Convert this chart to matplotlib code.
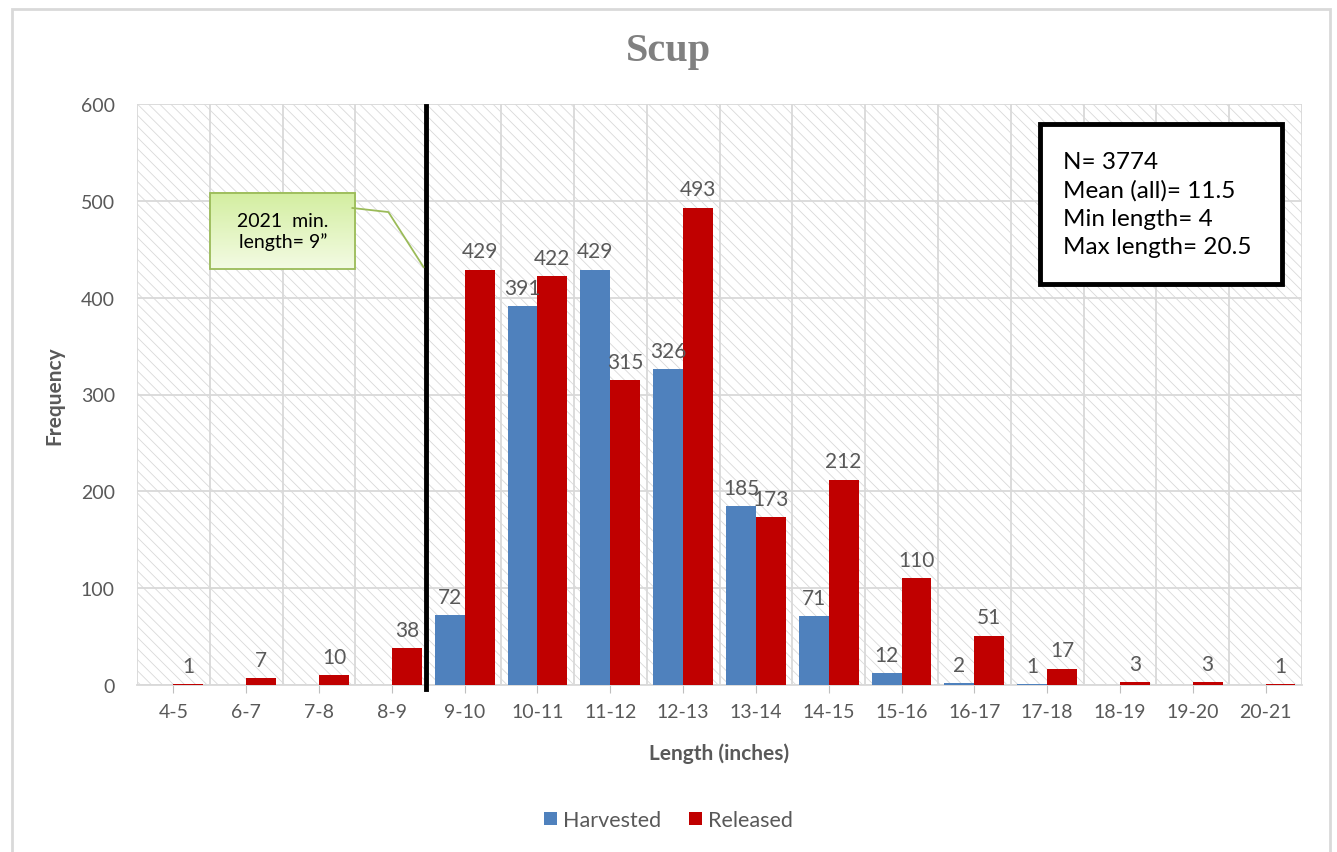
import matplotlib.pyplot as plt
import matplotlib.patches as mpatches
from matplotlib.colors import LinearSegmentedColormap
import numpy as np

plt.rcParams['font.family'] = ['Lato', 'DejaVu Sans']
plt.rcParams['hatch.linewidth'] = 0.6
plt.rcParams['hatch.color'] = '#d9d9d9'

lengths = ['4-5', '6-7', '7-8', '8-9', '9-10', '10-11', '11-12', '12-13',
           '13-14', '14-15', '15-16', '16-17', '17-18', '18-19', '19-20', '20-21']
harvested = [0, 0, 0, 0, 72, 391, 429, 326, 185, 71, 12, 2, 1, 0, 0, 0]
released = [1, 7, 10, 38, 429, 422, 315, 493, 173, 212, 110, 51, 17, 3, 3, 1]
min_size_pos = 3.47   # 9" minimum, between 8-9 and 9-10
stats = 'N= 3774\nMean (all)= 11.5\nMin length= 4\nMax length= 20.5'

txt = '#595959'
blue = '#4f81bd'
red = '#c00000'

fig = plt.figure(figsize=(13.37, 8.53), dpi=100)
fig.patches.append(mpatches.Rectangle((12/1337, -0.1), (1330-12)/1337, 1.1 - 10/853,
                                      transform=fig.transFigure, fill=False,
                                      edgecolor='#d9d9d9', lw=2, zorder=0))
ax = fig.add_axes([137/1337, 1 - 686/853, (1302-137)/1337, (686-105)/853])

x = np.arange(len(lengths))
w = 0.41
hb = ax.bar(x - w/2, harvested, w, color=blue, label='Harvested', zorder=3)
rb = ax.bar(x + w/2, released, w, color=red, label='Released', zorder=3)

for xi, v in zip(x - w/2, harvested):
    if v > 0:
        ax.annotate(str(v), (xi, v), xytext=(0, 6), textcoords='offset points',
                    ha='center', va='bottom', fontsize=15, color=txt, zorder=5)
for xi, v in zip(x + w/2, released):
    ax.annotate(str(v), (xi, v), xytext=(0, 6), textcoords='offset points',
                ha='center', va='bottom', fontsize=15, color=txt, zorder=5)

ax.set_xlim(-0.5, len(lengths) - 0.5)
ax.set_ylim(0, 600)
ax.set_yticks(range(0, 601, 100))
ax.set_xticks(x)
ax.set_xticklabels(lengths)
ax.set_xticks(np.arange(-0.5, len(lengths), 1), minor=True)
ax.tick_params(axis='x', which='major', length=6, color='#bfbfbf', colors=txt,
               labelsize=14, pad=7)
ax.tick_params(axis='x', which='minor', length=0)
ax.tick_params(axis='y', length=0, colors=txt, labelsize=14, pad=16)
ax.grid(axis='y', which='major', color='#d9d9d9', lw=1.3, zorder=1)
ax.grid(axis='x', which='minor', color='#d9d9d9', lw=1.3, zorder=1)
ax.grid(axis='x', which='major', visible=False)
for s in ['top', 'right', 'left']:
    ax.spines[s].set_visible(False)
ax.spines['bottom'].set_color('#d9d9d9')
ax.spines['bottom'].set_linewidth(1.3)
ax.set_axisbelow(True)

# hatched plot area
ax.add_patch(mpatches.Rectangle((0, 0), 1, 1, transform=ax.transAxes, facecolor='white',
                                edgecolor='#d9d9d9', hatch='\\\\\\', lw=0, zorder=0))

ax.set_xlabel('Length (inches)', fontsize=15, fontweight='bold', color=txt, labelpad=16)
ax.set_ylabel('Frequency', fontsize=15, fontweight='bold', color=txt, labelpad=12)
fig.text(668/1337, 1 - 52/853, 'Scup', fontsize=29, fontweight='bold', color='#808080',
         family='Liberation Serif', ha='center', va='center')

# minimum size line
ax.axvline(min_size_pos, ymin=-0.007, ymax=0.997, color='black', lw=3.5, clip_on=False, zorder=4)

# callout box
gx0, gy0, gx1, gy1 = 0.0628, 0.716, 0.1874, 0.847
grad = np.linspace(0, 1, 100).reshape(-1, 1)
gcm = LinearSegmentedColormap.from_list('g', ['#f3fbe3', '#d3eea0'])
ax.imshow(grad, cmap=gcm, extent=[gx0, gx1, gy1, gy0], transform=ax.transAxes,
          aspect='auto', zorder=6, origin='upper')
ax.add_patch(mpatches.Rectangle((gx0, gy0), gx1 - gx0, gy1 - gy0, transform=ax.transAxes,
                                fill=False, edgecolor='#9bbb59', lw=1.3, zorder=7))
ax.plot([0.1849, 0.2158, 0.2459], [0.821, 0.814, 0.7195], transform=ax.transAxes,
        color='#9bbb59', lw=1.3, zorder=6)
ax.text((gx0 + gx1) / 2, (gy0 + gy1) / 2, '2021  min.\nlength= 9\u201d', transform=ax.transAxes,
        ha='center', va='center', fontsize=14, color='black', linespacing=1.25, zorder=8)
ax.set_xlim(-0.5, len(lengths) - 0.5)
ax.set_ylim(0, 600)

# stats box
ax.add_patch(mpatches.Rectangle((0.7747, 0.690), 0.9828 - 0.7747, 0.9656 - 0.690,
                                transform=ax.transAxes, facecolor='white', edgecolor='black',
                                lw=3.5, zorder=6))
ax.text(0.7747 + 0.020, (0.690 + 0.9656) / 2, stats, transform=ax.transAxes,
        ha='left', va='center', fontsize=17.5, color='black', linespacing=1.4, zorder=7)

fig.legend(handles=[hb, rb], loc='center', bbox_to_anchor=(0.5, 1 - 821/853), ncol=2,
           frameon=False, fontsize=15.5, labelcolor=txt, handlelength=0.6, handleheight=0.6,
           handletextpad=0.3, columnspacing=1.3)

fig.savefig('out.png', dpi=100)
